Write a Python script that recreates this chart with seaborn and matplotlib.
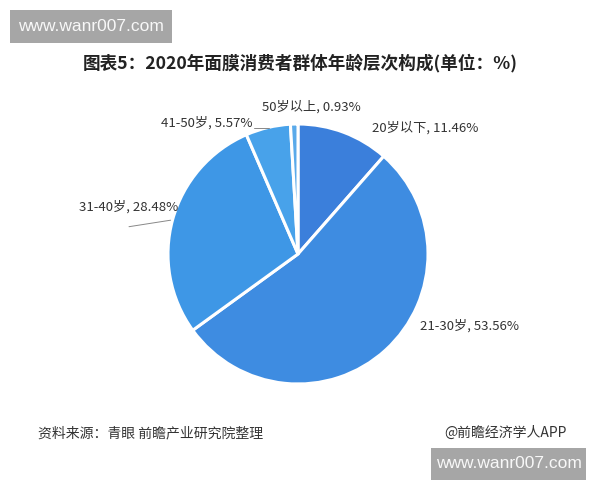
import matplotlib.pyplot as plt
import matplotlib.patches as mpatches
import seaborn as sns

labels = ['20岁以下', '21-30岁', '31-40岁', '41-50岁', '50岁以上']
shares = [11.46, 53.56, 28.48, 5.57, 0.93]
colors = ['#3b7fdb', '#3e8ce1', '#3e97e6', '#48a2ea', '#5aaaea']

title = '图表5：2020年面膜消费者群体年龄层次构成(单位：%)'
source = '资料来源：青眼 前瞻产业研究院整理'
credit = '@前瞻经济学人APP'
watermark = 'www.wanr007.com'

sns.set_theme(style='white')
plt.rcParams['font.family'] = ['Noto Sans CJK SC', 'DejaVu Sans']

W, H = 600, 480
fig = plt.figure(figsize=(6, 4.8), dpi=100)
fig.patch.set_facecolor('white')

# pie centre ~ (298, 254) px, radius ~130 px
r_px = 130
ax = fig.add_axes([(298 - r_px) / W, (H - 254 - r_px) / H,
                   2 * r_px / W, 2 * r_px / H])
wedges, _ = ax.pie(shares, colors=colors, startangle=90, counterclock=False,
                   radius=1.0, wedgeprops=dict(edgecolor='white', linewidth=2.2))
ax.set_xlim(-1, 1)
ax.set_ylim(-1, 1)
ax.set_aspect('equal')
ax.axis('off')

# label placements (data coords, relative to unit pie)
label_pos = [(0.57, 0.97, 'left'), (0.94, -0.55, 'left'), (-0.92, 0.36, 'right'),
             (-0.35, 1.01, 'right'), (0.10, 1.13, 'center')]
for name, val, (x, y, ha) in zip(labels, shares, label_pos):
    ax.text(x, y, f'{name}, {val:.2f}%', ha=ha, va='center', fontsize=9.5,
            color='#333333', clip_on=False)

# leader lines
ax.plot([-1.30, -0.98], [0.21, 0.26], color='#888888', lw=0.7, clip_on=False)
ax.plot([-0.34, -0.22], [0.97, 0.97], color='#888888', lw=0.7, clip_on=False)

fig.text(0.5, 1 - 63 / H, title, ha='center', va='center', fontsize=12.7,
         fontweight='bold', color='#222222')
fig.text(38 / W, 1 - 433 / H, source, ha='left', va='center', fontsize=10,
         color='#333333')
fig.text(567 / W, 1 - 433 / H, credit, ha='right', va='center', fontsize=10,
         color='#333333')

# grey watermark boxes
for x0, x1, y0, y1 in [(10, 172, 10, 43), (431, 586, 448, 480)]:
    fig.patches.append(mpatches.Rectangle((x0 / W, 1 - y1 / H), (x1 - x0) / W,
                                          (y1 - y0) / H, transform=fig.transFigure,
                                          facecolor='#a6a6a6', edgecolor='none'))
    fig.text((x0 + x1) / 2 / W, 1 - (y0 + y1) / 2 / H, watermark, ha='center',
             va='center', fontsize=12.5, color='#f8f8f8',
             family=['Liberation Sans', 'DejaVu Sans'])

fig.savefig('out.png', dpi=100, facecolor='white')
